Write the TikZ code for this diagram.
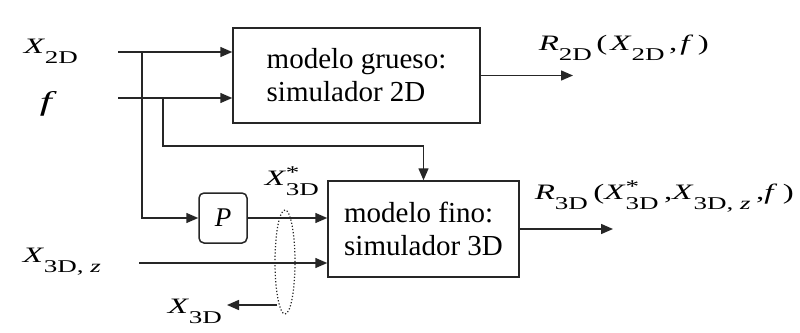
\documentclass[tikz,border=0pt]{standalone}
\usepackage{fontspec}
\setmainfont{Liberation Serif}
\newfontfamily\tnr{Liberation Serif}
\usetikzlibrary{arrows.meta}
\newcommand{\Lb}[1]{\scalebox{1.5}[1]{\tnr\fontsize{22}{22}\selectfont #1}}
\newcommand{\Sb}[1]{\raisebox{-10pt}{\fontsize{18}{18}\selectfont #1}}
\newcommand{\St}[1]{\raisebox{7pt}{\fontsize{18}{18}\selectfont #1}}
\begin{document}
\begin{tikzpicture}[x=1pt,y=-1pt,line width=1.5pt,draw=black!85,
  arr/.style={-{Triangle[length=12pt,width=10pt]}},
  blk/.style={draw,inner sep=0pt,font=\tnr\fontsize{29}{33}\selectfont,align=left},
  pbox/.style={draw,rounded corners=5pt,inner sep=0pt,minimum width=48pt,minimum height=50pt,font=\tnr\fontsize{27}{27}\selectfont\itshape},
  lbl/.style={inner sep=0pt,anchor=base west}]
\useasboundingbox[fill=white] (0,0) rectangle (800,332);
% blocks
\node[blk,minimum width=247pt,minimum height=95pt] (b1) at (356.5,75.5) {modelo grueso:\\simulador 2D};
\node[blk,minimum width=191pt,minimum height=96pt] (b2) at (423.5,229) {modelo fino:\\simulador 3D};
\node[pbox] (p) at (223,218) {P};
% labels
\node[lbl] (lx2d) at (23,53) {\Lb{\textit{X}\Sb{2D}}};
\node[lbl] (lf) at (39,110) {\scalebox{1.6}[1]{\tnr\fontsize{27}{27}\selectfont\textit{f}}};
\node[lbl] (lx3dz) at (22,262) {\Lb{\textit{X}\Sb{3D, \textit{z}}}};
\node[lbl] (lx3d) at (167,313) {\Lb{\textit{X}\Sb{3D}}};
\node[lbl] (lxs) at (264,185) {\Lb{\textit{X}\rlap{\St{*}}\Sb{3D}}};
\node[lbl] (lr2d) at (538,50) {\Lb{\textit{R}\Sb{2D}\hspace{3pt}(\hspace{2pt}\textit{X}\Sb{2D}\hspace{3pt},\hspace{2pt}\textit{f}\hspace{3pt})}};
\node[lbl] (lr3d) at (534,199) {\Lb{\textit{R}\Sb{3D}\,(\textit{X}\rlap{\St{*}}\Sb{3D}\,,\textit{X}\Sb{3D, \textit{z}}\,,\textit{f}\,)}};
% coordinates
\coordinate (ix) at (118,52);
\coordinate (if) at (118,98);
\coordinate (jx) at (142,52);
\coordinate (jf) at (163,98);
\coordinate (k) at (423.5,146);
\coordinate (iz) at (139,263);
\coordinate (o1) at (573,75.5);
\coordinate (o2) at (613,229);
\coordinate (e) at (277,305);
\coordinate (eo) at (227,305);
% connectors
\draw[arr] (ix) -- (ix -| b1.west);
\draw[arr] (if) -- (if -| b1.west);
\draw[arr] (jx) |- (p.west);
\draw[arr] (jf) |- (k) -- (b2.north);
\draw[arr] (p.east) -- (p.east -| b2.west);
\draw[arr] (iz) -- (iz -| b2.west);
\draw[arr] (b1.east) -- (o1);
\draw[arr] (b2.east) -- (o2);
\draw[arr] (e) -- (eo);
\draw[line width=1.2pt,dotted] (285,262) ellipse [x radius=10pt,y radius=52pt];
\end{tikzpicture}
\end{document}
